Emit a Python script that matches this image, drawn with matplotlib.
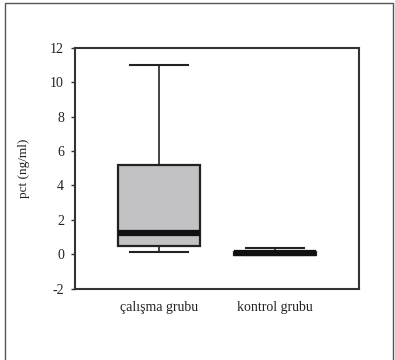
import matplotlib
matplotlib.use("Agg")
import matplotlib.pyplot as plt
from matplotlib.patches import Rectangle

categories = ["çalışma grubu", "kontrol grubu"]
whislo = [0.15, -0.05]
q1 = [0.5, -0.05]
med = [1.22, 0.05]
q3 = [5.2, 0.15]
whishi = [11.0, 0.35]
yticks = [-2, 0, 2, 4, 6, 8, 10, 12]

plt.rcParams['font.family'] = ['Liberation Serif', 'DejaVu Serif']

fig = plt.figure(figsize=(3.95, 3.6), dpi=100)
ax = fig.add_axes([75/395, 1-288.7/360, 284/395, 241/360])

stats = []
for i, name in enumerate(categories):
    stats.append(dict(label=name, whislo=whislo[i], q1=q1[i], med=med[i],
                      q3=q3[i], whishi=whishi[i], fliers=[]))

ax.bxp(stats, positions=[1, 2], widths=0.71, patch_artist=True, showfliers=False,
       boxprops=dict(facecolor='#c2c2c4', edgecolor='#222222', linewidth=1.6),
       medianprops=dict(color='#111111', linewidth=4.5, solid_capstyle='butt'),
       whiskerprops=dict(color='#222222', linewidth=1.2),
       capprops=dict(color='#222222', linewidth=1.5),
       capwidths=0.5)

ax.set_xlim(0.273, 2.73)
ax.set_ylim(-2, 12)
ax.set_yticks(yticks)
ax.set_yticklabels([str(t) for t in yticks], fontsize=10, color='#222222')
ax.tick_params(axis='y', direction='out', length=3, width=1, color='#333333', pad=5)
ax.tick_params(axis='x', length=0, pad=9, labelsize=10, labelcolor='#222222')
ax.set_ylabel("pct (ng/ml)", fontsize=9.5, color='#222222', labelpad=14)
for s in ax.spines.values():
    s.set_linewidth(1.5)
    s.set_color('#333333')

fig.patches.append(Rectangle((5/395, -0.05), 388/395, 1.05 - 3/360, transform=fig.transFigure,
                             fill=False, edgecolor='#555555', linewidth=1.0))

fig.savefig("out.png", dpi=100)
